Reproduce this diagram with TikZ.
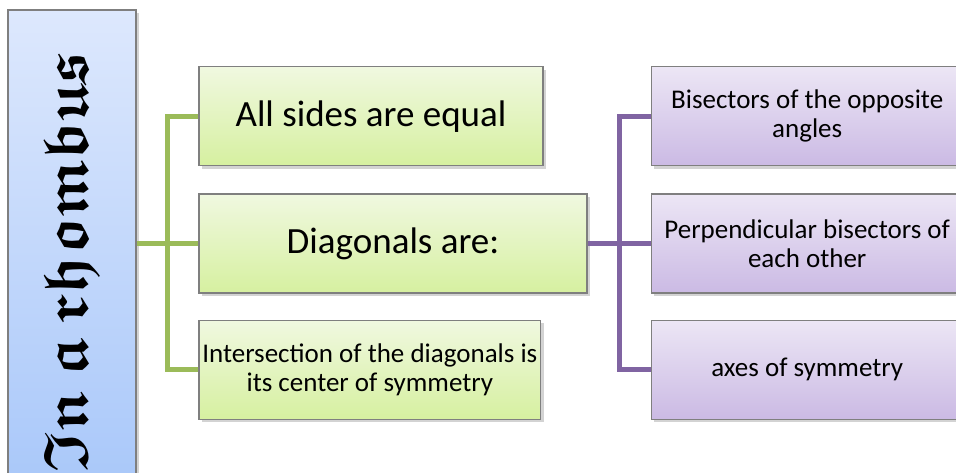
\documentclass[tikz,border=0pt]{standalone}
\usepackage{amssymb}
\usepackage{fontspec}
\setmainfont{Carlito}
\usetikzlibrary{positioning,shadows,calc}

\definecolor{leafgreen}{HTML}{9BBB59}
\definecolor{lilac}{HTML}{8064A2}
\definecolor{boxedge}{HTML}{7F7F7F}
\definecolor{gtop}{HTML}{F0F8E0}
\definecolor{gbot}{HTML}{D6F0A0}
\definecolor{ptop}{HTML}{ECE6F5}
\definecolor{pbot}{HTML}{CBBAE4}
\definecolor{btop}{HTML}{DDE8FD}
\definecolor{bbot}{HTML}{A6C6F9}

\begin{document}
\begin{tikzpicture}[x=1pt,y=1pt,
    box/.style={draw=boxedge,line width=1.2pt,align=center,minimum height=99pt,
      drop shadow={shadow xshift=3pt,shadow yshift=-3pt,opacity=.35}},
    gbox/.style={box,top color=gtop,bottom color=gbot,font=\fontsize{37}{42}\selectfont},
    pbox/.style={box,top color=ptop,bottom color=pbot,minimum width=312pt,
      font=\fontsize{27}{29}\selectfont},
    gline/.style={draw=leafgreen,line width=5pt},
    pline/.style={draw=lilac,line width=5pt}]
    \useasboundingbox (0,0) rectangle (956,472);
    \clip (0,0) rectangle (956,472);
    % title bar
    \node[box,top color=btop,bottom color=bbot,minimum width=128pt,minimum height=504pt] (R) at (72,210)
      {\rotatebox{90}{\fontsize{63}{63}\selectfont\boldmath$\mathfrak{In\ a\ rhombus}$}};
    % properties
    \node[gbox,minimum width=388pt] (DA) at (393,228.5) {Diagonals are:};
    \node[gbox,minimum width=344pt,above=27pt of DA.north west,anchor=south west] (AS) {All sides are equal};
    \node[gbox,minimum width=340pt,below=26pt of DA.south west,anchor=north west,
      font=\fontsize{27}{29}\selectfont] (IC) {Intersection of the diagonals is\\its center of symmetry};
    % diagonals
    \node[pbox,right=63pt of DA] (PB) {Perpendicular bisectors of\\each other};
    \node[pbox,above=27pt of PB] (BA) {Bisectors of the opposite\\angles};
    \node[pbox,below=26pt of PB] (AX) {axes of symmetry};
    \coordinate (gm) at ($(R.east |- DA)!.5!(DA.west)$);
    \coordinate (pm) at ($(DA.east)!.5!(PB.west)$);
    \draw[gline] (R.east |- DA) -- (DA.west);
    \draw[gline] (AS.west) -| (gm) |- (IC.west);
    \draw[pline] (DA.east) -- (PB.west);
    \draw[pline] (BA.west) -| (pm) |- (AX.west);
\end{tikzpicture}
\end{document}
